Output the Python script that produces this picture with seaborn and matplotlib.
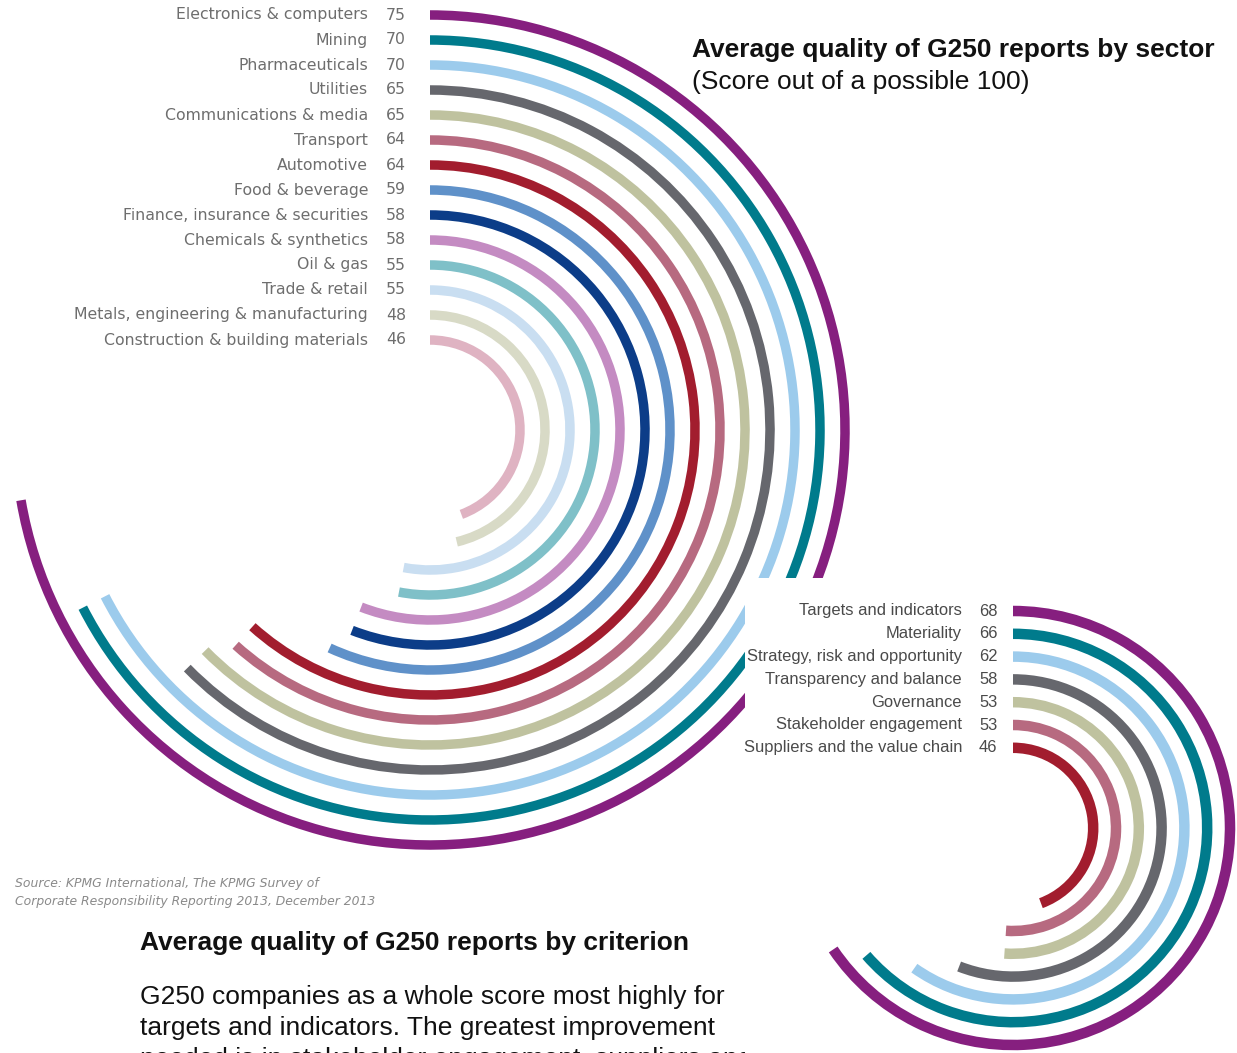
import numpy as np
import matplotlib
matplotlib.use("Agg")
import matplotlib.pyplot as plt
from matplotlib.patches import Rectangle
import seaborn as sns

# ---- data -------------------------------------------------------------
sectors = [
    "Electronics & computers", "Mining", "Pharmaceuticals", "Utilities",
    "Communications & media", "Transport", "Automotive", "Food & beverage",
    "Finance, insurance & securities", "Chemicals & synthetics", "Oil & gas",
    "Trade & retail", "Metals, engineering & manufacturing",
    "Construction & building materials",
]
sector_scores = [75, 70, 70, 65, 65, 64, 64, 59, 58, 58, 55, 55, 48, 46]
sector_colors = [
    "#861f7f", "#007b8c", "#9ccbec", "#66676d", "#bfc29f", "#b76a80",
    "#a21d2e", "#5f91c9", "#0c3d88", "#c48bc2", "#7fc0c8", "#c9def1",
    "#d8dac6", "#dfb3c2",
]

criteria = [
    "Targets and indicators", "Materiality", "Strategy, risk and opportunity",
    "Transparency and balance", "Governance", "Stakeholder engagement",
    "Suppliers and the value chain",
]
criterion_scores = [68, 66, 62, 58, 53, 53, 46]
criterion_colors = [
    "#861f7f", "#007b8c", "#9ccbec", "#66676d", "#bfc29f", "#b76a80", "#a21d2e",
]

# a score of 100 sweeps this many degrees clockwise from 12 o'clock
FULL_SWEEP_DEG = 347.0

# ---- style --------------------------------------------------------------
sns.set_theme(style="white")
plt.rcParams["font.family"] = ["DejaVu Sans"]

W, H = 1237, 1053
fig = plt.figure(figsize=(W / 100, H / 100), dpi=100)
fig.patch.set_facecolor("white")


def fx(x):
    return x / W


def fy(y):
    return 1 - y / H


def polar_axes(cx, cy, half, z):
    ax = fig.add_axes([(cx - half) / W, (H - cy - half) / H,
                       2 * half / W, 2 * half / H], projection="polar")
    ax.set_theta_zero_location("N")
    ax.set_theta_direction(-1)
    ax.set_ylim(0, half)
    ax.set_axis_off()
    ax.set_zorder(z)
    return ax


def radial_bars(ax, scores, colors, r_outer, step, thick):
    radii = r_outer - step * np.arange(len(scores))
    sweep = np.deg2rad(np.asarray(scores) / 100.0 * FULL_SWEEP_DEG)
    ax.barh(radii, sweep, left=0, height=thick, color=colors,
            edgecolor="none", align="center")
    return radii


# ---- sector chart -------------------------------------------------------
C1X, C1Y = 430, 430
ax1 = polar_axes(C1X, C1Y, 430, 0)
r1 = radial_bars(ax1, sector_scores, sns.color_palette(sector_colors),
                 415, 25, 9.5)
for name, val, r in zip(sectors, sector_scores, r1):
    y = C1Y - r
    fig.text(fx(368), fy(y), name, ha="right", va="center",
             fontsize=11.3, color="#6e6e6e")
    fig.text(fx(396), fy(y), str(val), ha="center", va="center",
             fontsize=11.3, color="#6e6e6e")

# body copy sits beneath the white panel of the criterion chart
fig.text(fx(140), fy(943), "Average quality of G250 reports by criterion",
         ha="left", va="center", fontsize=19, fontweight="bold",
         color="#111111", family="Liberation Sans", zorder=0.5)
body = [
    "G250 companies as a whole score most highly for",
    "targets and indicators. The greatest improvement",
    "needed is in stakeholder engagement, suppliers and the",
]
for i, line in enumerate(body):
    fig.text(fx(140), fy(997 + 31 * i), line, ha="left", va="center",
             fontsize=19, color="#111111", family="Liberation Sans",
             zorder=0.5)

# white panel carrying the criterion chart
fig.add_artist(Rectangle((fx(745), 0), 1 - fx(745), fy(578),
                         transform=fig.transFigure, facecolor="white",
                         edgecolor="none", zorder=1))

# ---- criterion chart ----------------------------------------------------
C2X, C2Y = 1013, 828
ax2 = polar_axes(C2X, C2Y, 226, 2)
r2 = radial_bars(ax2, criterion_scores, sns.color_palette(criterion_colors),
                 217, 22.8, 10.5)
for name, val, r in zip(criteria, criterion_scores, r2):
    y = C2Y - r
    fig.text(fx(962), fy(y), name, ha="right", va="center",
             fontsize=11.9, color="#4a4a4a", family="Liberation Sans",
             zorder=5)
    fig.text(fx(979), fy(y), str(val), ha="left", va="center",
             fontsize=11.9, color="#4a4a4a", family="Liberation Sans",
             zorder=5)

# ---- titles and notes ----------------------------------------------------
fig.text(fx(692), fy(50), "Average quality of G250 reports by sector",
         ha="left", va="center", fontsize=19, fontweight="bold",
         color="#111111", family="Liberation Sans", zorder=5)
fig.text(fx(692), fy(82), "(Score out of a possible 100)",
         ha="left", va="center", fontsize=19, color="#111111",
         family="Liberation Sans", zorder=5)

fig.text(fx(15), fy(884), "Source: KPMG International, The KPMG Survey of",
         ha="left", va="center", fontsize=8.9, style="italic",
         color="#8a8a8a")
fig.text(fx(15), fy(902),
         "Corporate Responsibility Reporting 2013, December 2013",
         ha="left", va="center", fontsize=8.9, style="italic",
         color="#8a8a8a")

fig.savefig("out.png", dpi=100, facecolor="white")
